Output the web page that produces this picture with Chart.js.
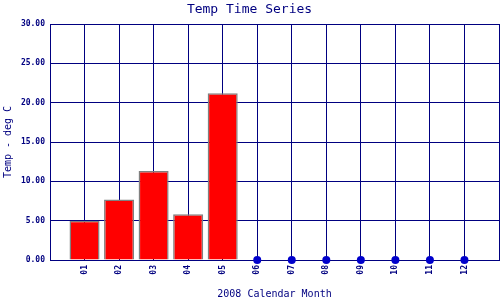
<!DOCTYPE html>
<html>
<head>
<meta charset="utf-8">
<script src="https://cdn.jsdelivr.net/npm/chart.js@4/dist/chart.umd.min.js"></script>
<style>
  body { margin: 0; background: #fff; }
  #wrap { width: 500px; height: 300px; }
</style>
</head>
<body>
<div id="wrap"><canvas id="tempChart" width="500" height="300"></canvas></div>
<script>
// dados do gráfico
const months = ['01', '02', '03', '04', '05', '06', '07', '08', '09', '10', '11', '12'];
const temps = [5.0, 7.7, 11.3, 5.8, 21.2, null, null, null, null, null, null, null];
const yTicks = [0, 5, 10, 15, 20, 25, 30];

const navy = '#000080';
const mono = 'DejaVu Sans Mono';

// barras para meses com valor, pontos no zero para meses sem dados
const barData = [];
const missingData = [];
months.forEach((m, i) => {
    if (temps[i] !== null) {
        barData.push({ x: i + 1, y: temps[i] });
    } else {
        missingData.push({ x: i + 1, y: 0 });
    }
});

const ctx = document.getElementById('tempChart').getContext('2d');
const tempChart = new Chart(ctx, {
    type: 'bar',
    data: {
        datasets: [{
            type: 'bar',
            data: barData,
            backgroundColor: '#ff0000',
            borderColor: '#808080',
            borderWidth: 1.5,
            barPercentage: 0.87,
            categoryPercentage: 1,
            order: 2
        }, {
            type: 'scatter',
            data: missingData,
            backgroundColor: '#0000cc',
            borderColor: '#0000cc',
            pointRadius: 4,
            borderWidth: 0,
            clip: false,
            order: 1
        }]
    },
    options: {
        responsive: false,
        animation: false,
        layout: { autoPadding: false, padding: { left: 0, right: 1, top: 0, bottom: 0 } },
        plugins: {
            legend: { display: false },
            tooltip: { enabled: false },
            title: {
                display: true,
                text: 'Temp Time Series',
                color: navy,
                font: { family: mono, size: 13, weight: 'normal' },
                padding: { top: 1.5, bottom: 6.9 }
            }
        },
        scales: {
            x: {
                type: 'linear',
                min: 0,
                max: months.length + 1,
                offset: false,
                grid: { color: navy, lineWidth: 1, drawTicks: false, offset: false },
                border: { color: navy, width: 1 },
                ticks: {
                    stepSize: 1,
                    autoSkip: false,
                    maxRotation: 90,
                    minRotation: 90,
                    padding: 5,
                    color: navy,
                    font: { family: mono, size: 8, weight: 'bold' },
                    callback: v => months[v - 1] || ''
                },
                title: {
                    display: true,
                    text: '2008 Calendar Month',
                    color: navy,
                    font: { family: mono, size: 10, weight: 'normal' },
                    padding: 0
                },
                afterFit: s => { s.height = 40; s.paddingLeft = 0; s.paddingRight = 0; }
            },
            y: {
                min: yTicks[0],
                max: yTicks[yTicks.length - 1],
                grid: { color: navy, lineWidth: 1, drawTicks: false },
                border: { color: navy, width: 1 },
                afterBuildTicks: s => { s.ticks = yTicks.map(v => ({ value: v })); },
                ticks: {
                    padding: 5,
                    color: navy,
                    font: { family: mono, size: 8, weight: 'bold' },
                    callback: v => v.toFixed(2)
                },
                title: {
                    display: true,
                    text: 'Temp - deg C',
                    color: navy,
                    font: { family: mono, size: 10, weight: 'normal' },
                    padding: { top: 2, bottom: 0 }
                },
                afterFit: s => { s.width = 50; }
            }
        }
    }
});
</script>
</body>
</html>
